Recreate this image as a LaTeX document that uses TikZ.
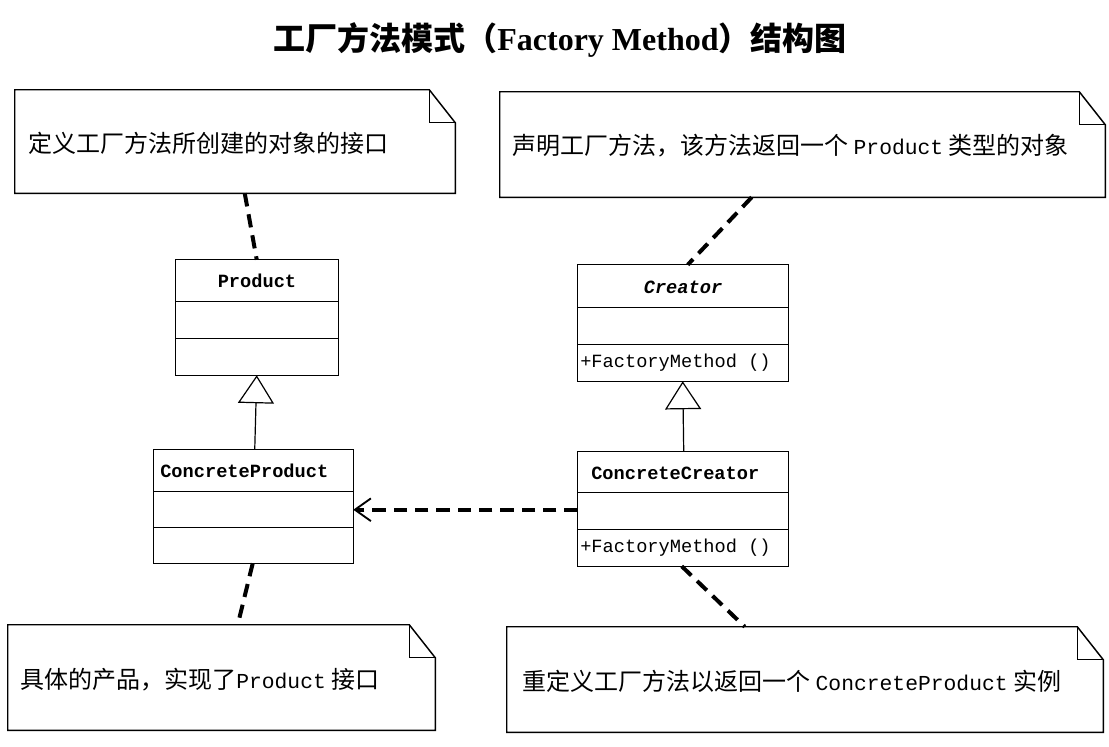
\documentclass[tikz,border=0pt]{standalone}
\usepackage{fontspec}
\newfontfamily\cjk{Noto Sans CJK SC}
\newfontfamily\mono{Liberation Mono}
\newfontfamily\tserif{Liberation Serif}
\usetikzlibrary{fit,calc,arrows.meta}
\tikzset{
  frame/.style={fit={#1}, inner sep=0pt, draw=none},
  boxline/.style={draw=black, line width=1.1pt},
  noteline/.style={draw=black, line width=1.1pt, line join=miter},
  cname/.style={font=\mono\bfseries\fontsize{14pt}{16pt}\selectfont, inner sep=0pt},
  cmeth/.style={font=\mono\fontsize{14pt}{16pt}\selectfont, inner sep=0pt, anchor=west},
  notetext/.style={font=\cjk\fontsize{18pt}{20pt}\selectfont, inner sep=0pt, anchor=west},
  dashlink/.style={draw=black, line width=3pt, dash pattern=on 10pt off 6pt},
  genline/.style={draw=black, line width=0.9pt, -{Triangle[open, length=21pt, width=27pt, line width=0.9pt]}},
  deparrow/.style={draw=black, line width=3pt, dash pattern=on 10pt off 6pt, -{Straight Barb[length=12pt, width=17pt, line width=1.4pt]}}
}
\newcommand\lat[1]{{\mono\fontsize{16pt}{18pt}\selectfont #1}}
\newcommand\notepath[1]{%
  \draw[noteline] (#1.north west) -- ($(#1.north east)+(-26,0)$) -- ($(#1.north east)+(0,33)$) -- (#1.south east) -- (#1.south west) -- cycle;
  \draw[noteline] ($(#1.north east)+(-26,0)$) -- ($(#1.north east)+(-26,33)$) -- ($(#1.north east)+(0,33)$);}
\newcommand\classlines[3]{%
  \draw[boxline] (#1.north west) rectangle (#1.south east);
  \draw[boxline] ($(#1.north west)+(0,#2)$) -- ($(#1.north east)+(0,#2)$);
  \draw[boxline] ($(#1.north west)+(0,#3)$) -- ($(#1.north east)+(0,#3)$);}
\begin{document}
\begin{tikzpicture}[x=0.75pt, y=-0.75pt]
\useasboundingbox[fill=white] (0,0) rectangle (1109,746);

% title
\node[inner sep=0pt, font=\fontsize{24pt}{27pt}\selectfont] (title) at (560,40)
  {{\cjk\bfseries 工厂方法模式（}{\tserif\bfseries Factory Method}{\cjk\bfseries ）结构图}};

% notes
\node[frame={(15,90) (455,193)}] (n1) {};
\node[frame={(500,92) (1105,197)}] (n2) {};
\node[frame={(8,625) (435,730)}] (n3) {};
\node[frame={(507,627) (1103,732)}] (n4) {};
\notepath{n1}\notepath{n2}\notepath{n3}\notepath{n4}
\node[notetext] (t1) at (28,143) {定义工厂方法所创建的对象的接口};
\node[notetext] (t2) at (512,146) {声明工厂方法，该方法返回一个 \lat{Product} 类型的对象};
\node[notetext] (t3) at (20,680) {具体的产品，实现了\lat{Product} 接口};
\node[notetext] (t4) at (522,681) {重定义工厂方法以返回一个 \lat{ConcreteProduct} 实例};

% classes
\node[frame={(176,260) (338,375)}] (prod) {};
\node[frame={(154,450) (353,563)}] (cprod) {};
\node[frame={(578,265) (788,381)}] (crea) {};
\node[frame={(578,452) (788,566)}] (ccrea) {};
\classlines{prod}{42}{79}
\classlines{cprod}{42}{78}
\classlines{crea}{43}{80}
\classlines{ccrea}{41}{78}

\node[cname] (prodname) at (257,281) {Product};
\node[cname, anchor=west] (cprodname) at (160,471) {ConcreteProduct};
\node[cname, font=\mono\bfseries\itshape\fontsize{14pt}{16pt}\selectfont] (creaname) at (683,287) {Creator};
\node[cmeth] (creameth) at (580,363) {+FactoryMethod ()};
\node[cname, anchor=west] (ccreaname) at (591,473) {ConcreteCreator};
\node[cmeth] (ccreameth) at (580,548) {+FactoryMethod ()};

% generalizations
\draw[genline] ($(cprod.north west)+(101,0)$) -- ($(prod.south west)+(81,0)$);
\draw[genline] ($(ccrea.north west)+(106,0)$) -- ($(crea.south west)+(105,0)$);

% dependency
\draw[deparrow] ($(ccrea.north west)+(0,58)$) -- ($(cprod.north east)+(0,60)$);

% note links
\draw[dashlink] ($(n1.south west)+(230,0)$) -- ($(prod.north west)+(81,0)$);
\draw[dashlink] ($(n2.south west)+(252,0)$) -- ($(crea.north west)+(110,0)$);
\draw[dashlink] ($(cprod.south west)+(99,0)$) -- ($(n3.north west)+(230,0)$);
\draw[dashlink] ($(ccrea.south west)+(104,0)$) -- ($(n4.north west)+(238,0)$);
\end{tikzpicture}
\end{document}
